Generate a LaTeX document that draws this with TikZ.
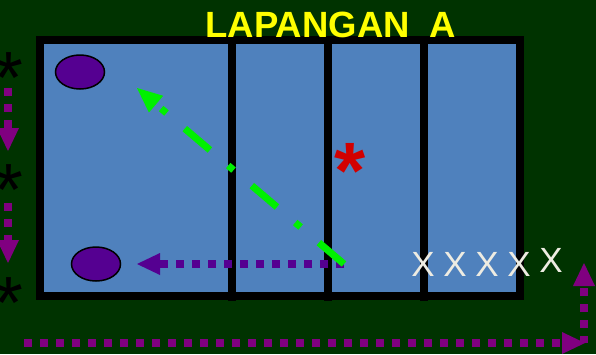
\documentclass[tikz,border=0pt]{standalone}
\usepackage{fontspec}
\setmainfont{Liberation Sans}
\usetikzlibrary{arrows.meta,shapes.geometric,positioning,calc}
\definecolor{bggreen}{RGB}{0,51,0}
\definecolor{fieldcol}{RGB}{79,129,189}
\definecolor{plum}{RGB}{128,0,128}
\definecolor{ink}{RGB}{85,0,145}
\definecolor{lime}{RGB}{0,240,0}
\definecolor{chalk}{RGB}{238,236,226}
\definecolor{titlecol}{RGB}{255,255,0}
\definecolor{starred}{RGB}{210,0,0}

\begin{document}
\begin{tikzpicture}[x=1pt,y=-1pt,
  every node/.style={inner sep=0pt},
  player/.style={ellipse,draw=black,fill=ink,line width=1.5pt,
                 minimum width=49pt,minimum height=34pt},
  starmark/.style={anchor=north,font=\fontsize{74}{78}\selectfont},
  cross/.style={anchor=base,text=chalk,font=\fontsize{35}{40}\selectfont},
  dotline/.style={line width=8pt,dash pattern=on 8pt off 8pt,
                  -{Triangle[length=23pt,width=22pt,line width=0pt]}},
  runline/.style={lime,line width=7pt,
                  dash pattern=on 33pt off 24pt on 7pt off 24pt,
                  -{Triangle[length=25pt,width=22pt,line width=0pt]}}]
  % background and field
  \useasboundingbox (0,0) rectangle (596,354);
  \fill[bggreen] (0,0) rectangle (596,354);
  \filldraw[fill=fieldcol,draw=black,line width=8pt] (40,40) rectangle (520,296);
  \foreach \x in {232,328,424}
    \draw[line width=8pt] (\x,44) -- (\x,301);
  \node[anchor=base,text=titlecol,font=\bfseries\fontsize{36.5}{40}\selectfont]
    (title) at (331,37) {LAPANGAN~~A};
  % players
  \node[player] (ptop) at (80,72) {};
  \node[player] (pbot) at (96,264) {};
  % stars on the left
  \node[starmark] (s1) at (9,52) {*};
  \node[starmark] (s2) at (9,164) {*};
  \node[starmark] (s3) at (9,277) {*};
  \node[starmark,text=starred,font=\bfseries\fontsize{80}{84}\selectfont] (sred) at (350,143) {*};
  % crosses
  \foreach \i/\x/\y in {1/423/276,2/455/276,3/487/276,4/519/276,5/551/272}
    \node[cross] (x\i) at (\x,\y) {X};
  % arrow ends
  \coordinate (d1a) at (8,88);   \coordinate (d1b) at (8,151);
  \coordinate (d2a) at (8,203);  \coordinate (d2b) at (8,263);
  \coordinate (pass) at (344,264);
  \coordinate (passend) at (137,264);
  \coordinate (runend) at (137,88);
  \coordinate (bl) at (24,343);  \coordinate (br) at (585,343);
  \coordinate (rb) at (584,343); \coordinate (rt) at (584,263);
  % arrows
  \draw[dotline,plum] (d1a) -- (d1b);
  \draw[dotline,plum] (d2a) -- (d2b);
  \draw[dotline,ink] (pass) -- (passend);
  \draw[runline] (pass) -- (runend);
  \draw[dotline,plum] (bl) -- (br);
  \draw[dotline,plum,dash phase=1pt] (rb) -- (rt);
\end{tikzpicture}
\end{document}
